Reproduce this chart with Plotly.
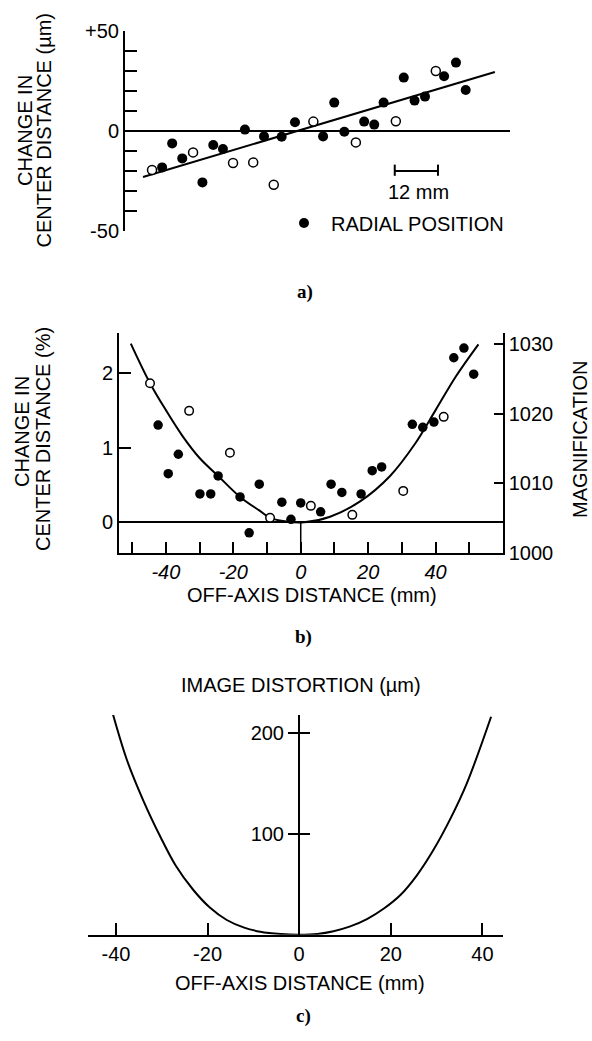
import plotly.graph_objects as go

W, H = 592, 1041
FONT = "Liberation Sans"

# ---------------- panel a data ----------------
a_filled_x = [-37.7, -34.9, -32.1, -26.5, -23.5, -20.8, -14.7, -9.4, -4.5, -0.8, 7.0, 10.1,
              12.9, 18.4, 21.2, 23.8, 29.4, 32.4, 35.3, 40.6, 43.9, 46.6, 1.7]
a_filled_y = [-18.2, -6.2, -13.7, -25.7, -7.0, -9.0, 0.7, -2.7, -2.9, 4.4, -2.7, 14.2,
              -0.4, 4.7, 3.2, 14.2, 26.7, 15.2, 17.2, 27.4, 34.2, 20.5, -46.0]
a_open_x = [-40.5, -29.1, -18.0, -12.4, -6.7, 4.3, 16.1, 27.2, 38.3]
a_open_y = [-19.5, -10.7, -16.0, -15.7, -26.9, 4.7, -5.7, 4.9, 30.0]
a_fit_x = [-43.0, 54.7]
a_fit_y = [-23.0, 29.5]
a_bar_x = [26.9, 38.9]
a_bar_y = -20.0
a_ticks = [-50, 0, 50]
a_ticktext = ["-50", "0", "+50"]

# ---------------- panel b data ----------------
b_filled_x = [-42.3, -36.3, -39.3, -29.9, -26.7, -24.5, -18.0, -12.3, -15.3, -5.6, -2.9, 0.0,
              5.9, 9.0, 12.2, 17.9, 21.2, 24.0, 33.1, 36.2, 39.5, 45.4, 48.4, 51.3]
b_filled_y = [1.30, 0.91, 0.65, 0.38, 0.38, 0.62, 0.34, 0.51, -0.14, 0.27, 0.04, 0.26,
              0.14, 0.51, 0.40, 0.38, 0.69, 0.74, 1.31, 1.27, 1.34, 2.20, 2.33, 1.98]
b_open_x = [-44.7, -33.1, -21.0, -9.1, 3.0, 15.3, 30.4, 42.4]
b_open_y = [1.86, 1.49, 0.93, 0.06, 0.22, 0.10, 0.42, 1.41]
b_curve_x = [-50.4, -44.7, -40.0, -35.0, -30.0, -24.5, -18.0, -12.0, -9.1, -4.2, 1.0,
             8.7, 17.6, 26.5, 33.9, 40.0, 46.0, 52.7]
b_curve_y = [2.39, 1.86, 1.50, 1.15, 0.86, 0.62, 0.34, 0.15, 0.06, 0.01, 0.0,
             0.075, 0.28, 0.62, 1.05, 1.50, 1.95, 2.38]
b_xticks = [-50, -40, -30, -20, -10, 0, 10, 20, 30, 40, 50]
b_xlabels = ["", "-40", "", "-20", "", "0", "", "20", "", "40", ""]
b_yticks = [0, 1, 2]
b_mag_ticks = [1000, 1010, 1020, 1030]

# ---------------- panel c data ----------------
c_curve_x = [-41.4, -37.6, -34.0, -30.3, -27.0, -23.1, -19.5, -15.8, -12.0, -8.5, -4.0, 0.0,
             4.0, 7.5, 11.0, 14.8, 18.5, 22.1, 25.7, 29.3, 33.0, 36.6, 41.9]
c_curve_y = [231.0, 173.5, 133.0, 97.3, 69.0, 44.4, 27.0, 14.6, 7.0, 3.0, 0.7, 0.0,
             0.8, 3.5, 8.0, 15.5, 26.0, 39.4, 59.0, 84.1, 115.0, 150.3, 216.5]
c_xticks = [-40, -20, 0, 20, 40]
c_xlabels = ["-40", "-20", "0", "20", "40"]
c_yticks = [100, 200]


def px(x):
    return x / W


def py(y):
    return 1 - y / H


fig = go.Figure()

# panel a
fig.add_trace(go.Scatter(x=a_fit_x, y=a_fit_y, mode="lines", line=dict(color="black", width=2),
                         xaxis="x", yaxis="y", cliponaxis=False))
fig.add_trace(go.Scatter(x=a_filled_x, y=a_filled_y, mode="markers",
                         marker=dict(color="black", size=10, line=dict(width=0)),
                         xaxis="x", yaxis="y", cliponaxis=False))
fig.add_trace(go.Scatter(x=a_open_x, y=a_open_y, mode="markers",
                         marker=dict(color="white", size=9, line=dict(color="black", width=1.5)),
                         xaxis="x", yaxis="y", cliponaxis=False))
fig.add_trace(go.Scatter(x=[a_bar_x[0], a_bar_x[0], None, a_bar_x[0], a_bar_x[1], None, a_bar_x[1], a_bar_x[1]],
                         y=[a_bar_y + 3.2, a_bar_y - 2.4, None, a_bar_y, a_bar_y, None, a_bar_y + 3.2, a_bar_y - 2.4],
                         mode="lines", line=dict(color="black", width=2), xaxis="x", yaxis="y"))

# panel b
fig.add_trace(go.Scatter(x=b_curve_x, y=b_curve_y, mode="lines", line=dict(color="black", width=2, shape="spline"),
                         xaxis="x2", yaxis="y2", cliponaxis=False))
fig.add_trace(go.Scatter(x=b_filled_x, y=b_filled_y, mode="markers",
                         marker=dict(color="black", size=9.5, line=dict(width=0)),
                         xaxis="x2", yaxis="y2", cliponaxis=False))
fig.add_trace(go.Scatter(x=b_open_x, y=b_open_y, mode="markers",
                         marker=dict(color="white", size=8.5, line=dict(color="black", width=1.5)),
                         xaxis="x2", yaxis="y2", cliponaxis=False))
# tall tick at 0 from axis up to zero line
fig.add_trace(go.Scatter(x=[0, 0], y=[-0.414, 0], mode="lines", line=dict(color="black", width=1.5),
                         xaxis="x2", yaxis="y2"))
# activate magnification axis
fig.add_trace(go.Scatter(x=[None], y=[None], xaxis="x2", yaxis="y3"))

# panel c
fig.add_trace(go.Scatter(x=c_curve_x, y=c_curve_y, mode="lines", line=dict(color="black", width=2, shape="spline"),
                         xaxis="x4", yaxis="y4", cliponaxis=False))
fig.add_trace(go.Scatter(x=[None], y=[None], xaxis="x4", yaxis="y5"))

axis_common = dict(showgrid=False, color="black", linecolor="black", tickcolor="black", automargin=False,
                   tickfont=dict(family=FONT, size=20, color="black"))

fig.update_layout(
    width=W, height=H, margin=dict(l=0, r=0, t=0, b=0, autoexpand=False),
    paper_bgcolor="white", plot_bgcolor="white", showlegend=False,
    # panel a
    xaxis=dict(domain=[px(125), px(510)], range=[-48, 58.9], visible=False, anchor="y", automargin=False),
    yaxis=dict(domain=[py(231), py(31)], range=[-50, 50], anchor="x", showline=True, linewidth=2,
               ticks="inside", ticklen=12, tickwidth=2, tickvals=a_ticks, ticktext=a_ticktext,
               minor=dict(dtick=10, ticks="inside", ticklen=12, tickwidth=2, tickcolor="black"),
               zeroline=True, zerolinecolor="black", zerolinewidth=2, **axis_common),
    # panel b
    xaxis2=dict(domain=[px(119), px(502.7)], range=[-53.9, 59.9], anchor="y2", showline=True, linewidth=2,
                ticks="inside", ticklen=11, tickwidth=1.5, tickvals=b_xticks,
                ticktext=[f"<i>{t}</i>" if t else "" for t in b_xlabels], zeroline=False, **axis_common),
    yaxis2=dict(domain=[py(553.3), py(333.3)], range=[-0.414, 2.527], anchor="x2", showline=True, linewidth=2,
                ticks="inside", ticklen=12, tickwidth=1.5, tickvals=b_yticks,
                zeroline=True, zerolinecolor="black", zerolinewidth=2, **axis_common),
    yaxis3=dict(domain=[py(553.3), py(333.3)], range=[1000, 1031.5], anchor="x2", overlaying="y2", side="right",
                showline=True, linewidth=2, ticks="inside", ticklen=9, tickwidth=1.5, tickvals=b_mag_ticks,
                zeroline=False, **axis_common),
    # panel c
    xaxis4=dict(domain=[px(88), px(503)], range=[-46.1, 44.5], anchor="y4", showline=True, linewidth=2,
                ticks="inside", ticklen=12, tickwidth=1.5, tickvals=c_xticks, ticktext=c_xlabels,
                zeroline=False, **axis_common),
    yaxis4=dict(domain=[py(934.7), py(715)], range=[0, 218.2], anchor="free", position=px(299),
                showline=True, linewidth=2, ticks="outside", ticklen=10, tickwidth=1.5, tickvals=c_yticks,
                zeroline=False, **axis_common),
    yaxis5=dict(domain=[py(934.7), py(715)], range=[0, 218.2], anchor="free", position=px(299),
                overlaying="y4", showline=False, ticks="inside", ticklen=10, tickwidth=1.5,
                tickvals=c_yticks, showticklabels=False, zeroline=False, showgrid=False,
                tickcolor="black", automargin=False),
)


def txt(x, y, s, size=20, angle=0, family=FONT, anchor="center"):
    fig.add_annotation(x=px(x), y=py(y), xref="paper", yref="paper", text=s, showarrow=False,
                       textangle=angle, xanchor=anchor, yanchor="middle",
                       font=dict(family=family, size=size, color="black"))


# panel a texts
txt(25, 131, "CHANGE IN", angle=-90)
txt(44, 130.5, "CENTER DISTANCE (µm)", angle=-90)
txt(418.3, 191.7, "12 mm")
txt(417, 224, "RADIAL POSITION")
txt(305, 292, "<b>a)</b>", size=19, family="Liberation Serif")

# panel b texts
txt(22, 432, "CHANGE IN", angle=-90)
txt(43, 439, "CENTER DISTANCE (%)", angle=-90)
txt(580, 440, "MAGNIFICATION", angle=-90)
txt(312, 595, "OFF-AXIS DISTANCE (mm)")
txt(303, 637, "<b>b)</b>", size=19, family="Liberation Serif")

# panel c texts
txt(301, 685, "IMAGE DISTORTION (µm)")
txt(300, 983, "OFF-AXIS DISTANCE (mm)")
txt(303, 1016, "<b>c)</b>", size=19, family="Liberation Serif")

fig.write_html("out.html")
